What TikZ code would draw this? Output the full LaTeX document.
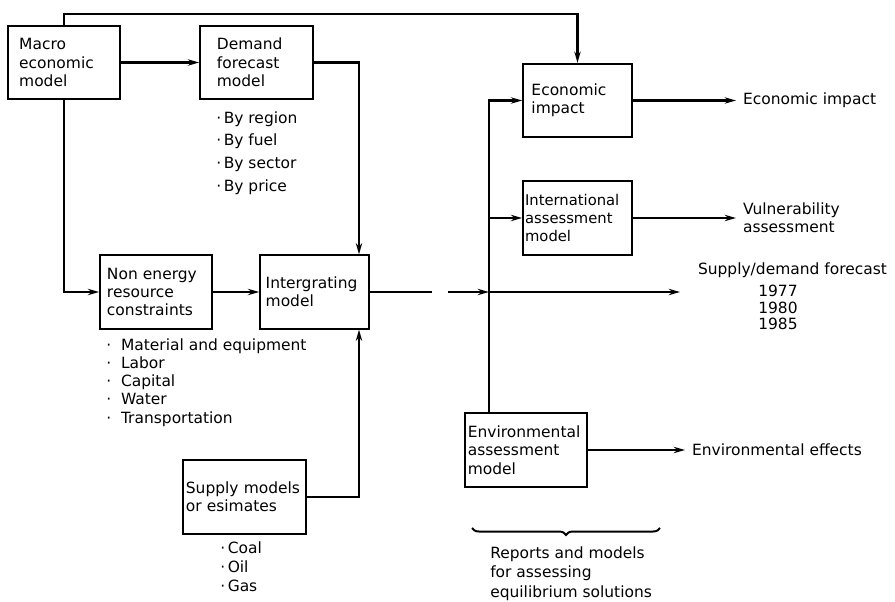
\documentclass[tikz,border=0pt]{standalone}
\usepackage{fontspec}
\setmainfont{DejaVu Sans}
\usepackage{tikz}
\usetikzlibrary{positioning,arrows.meta,decorations.pathreplacing}
\tikzstyle{block} = [rectangle, draw=black, very thick, align=left, minimum height=1.84cm, inner xsep=4pt]
\tikzstyle{arrowline} = [line width=2pt,-{Stealth[length=8pt,width=4.5pt]}]
\tikzstyle{plainline} = [line width=2pt]
\tikzstyle{itemlist} = [align=left, inner sep=0pt, anchor=north west]
\tikzstyle{outlabel} = [align=left, inner sep=0pt, outer sep=5pt, anchor=west]

\begin{document}
\begin{tikzpicture}[x=0.025cm, y=-0.025cm, font=\fontsize{11}{13}\selectfont]
			\useasboundingbox (0,0) rectangle (895,602);
			% models
			\node (macro) [block, text width=2.24cm, inner xsep=8pt] at (64,62.5) {Macro\\economic\\model};
			\node (demand) [block, text width=1.98cm, inner xsep=12pt] at (256.5,62.5) {Demand\\forecast\\model};
			\node (nonenergy) [block, text width=2.45cm, inner xsep=5pt] at (156,292) {Non energy\\resource\\constraints};
			\node (integ) [block, text width=2.44cm] at (314.5,292) {Intergrating\\model};
			\node (supply) [block, text width=2.93cm, inner xsep=2pt] at (244.5,497) {Supply models\\or esimates};
			\node (econ) [block, text width=2.3cm, inner xsep=6pt] at (577.5,100.5) {Economic\\impact};
			\node (intl) [block, text width=2.62cm, inner xsep=1.5pt, font=\fontsize{10.5}{13}\selectfont] at (577.5,218) {International\\assessment\\model};
			\node (env) [block, text width=2.91cm, inner xsep=2pt] at (526,450) {Environmental\\assessment\\model};

			% lists and outputs
			\node (demlist) [itemlist, font=\fontsize{11}{16.3}\selectfont] at (216,111) {·\,By region\\·\,By fuel\\·\,By sector\\·\,By price};
			\node (reslist) [itemlist] at (106,338) {·\hspace{7pt}Material and equipment\\·\hspace{7pt}Labor\\·\hspace{7pt}Capital\\·\hspace{7pt}Water\\·\hspace{7pt}Transportation};
			\node (fuellist) [itemlist, font=\fontsize{11}{13.5}\selectfont] at (220,541) {·\,Coal\\·\,Oil\\·\,Gas};
			\node (reports) [itemlist, font=\fontsize{11}{14}\selectfont] at (490,546) {Reports and models\\for assessing\\equilibrium solutions};
			\node (fclabel) [outlabel, outer sep=0pt] at (698,270) {Supply/demand forecast};
			\node (years) [itemlist, font=\fontsize{11}{11.7}\selectfont] at (758,285) {1977\\1980\\1985};
			\node (econout) [outlabel] at (736,100.5) {Economic impact};
			\node (vulnout) [outlabel] at (736,218) {Vulnerability\\assessment};
			\node (envout) [outlabel] at (685,450) {Environmental effects};

			\coordinate (top) at (0,14);
			\coordinate (feed) at (359,0);
			\coordinate (gapA) at (432,292);
			\coordinate (gapB) at (448,292);
			\coordinate (bus) at (489,292);
			\coordinate (fcast) at (680,292);
			\coordinate (braceL) at (472,528);
			\coordinate (braceR) at (660,528);

			\draw [arrowline] (macro.north) -- (macro.north |- top) -| (econ.north);
			\draw [arrowline] (macro) -- (demand);
			\draw [arrowline] (macro.south) |- (nonenergy.west);
			\draw [arrowline] (demand.east) -| (integ.north -| feed);
			\draw [arrowline] (nonenergy) -- (integ);
			\draw [arrowline] (supply.east) -| (integ.south -| feed);
			\draw [plainline] (integ.east) -- (gapA);
			\draw [arrowline] (gapB) -- (bus);
			\draw [arrowline] (bus) -- (fcast);
			\draw [arrowline] (env.north -| bus) |- (econ.west);
			\draw [arrowline] (intl.west -| bus) -- (intl.west);
			\draw [arrowline] (econ) -- (econout);
			\draw [arrowline] (intl) -- (vulnout);
			\draw [arrowline] (env) -- (envout);
			\draw [line width=1.4pt, decorate, decoration={brace, mirror, amplitude=5pt}] (braceL) -- (braceR);
\end{tikzpicture}
\end{document}
